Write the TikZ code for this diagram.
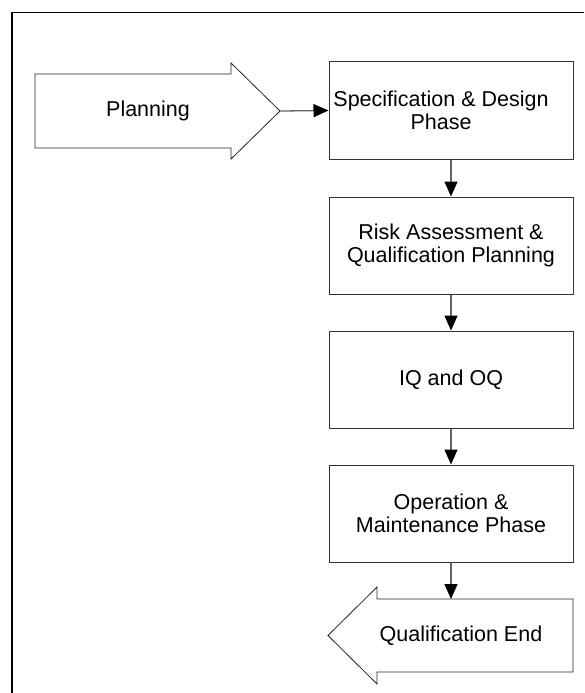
\documentclass[tikz,border=0pt]{standalone}
\usepackage{fontspec}
\setmainfont{Liberation Sans}
\usetikzlibrary{arrows.meta}
\begin{document}
\begin{tikzpicture}[x=1pt,y=-1pt,
  every node/.style={font=\fontsize{21.5}{22.5}\selectfont, align=center, inner sep=0pt},
  phasebox/.style={draw=black!80, line width=1pt, minimum width=244pt, minimum height=97pt},
  bigarrow/.style={draw=black!85, line width=0.8pt, line join=miter},
  frameline/.style={draw=black, line width=1.8pt},
  flow/.style={draw=black!60, line width=1.3pt,
    -{Triangle[length=15pt,width=13pt,color=black]}}]
\useasboundingbox (0,0) rectangle (584,693);
\fill[white] (0,0) rectangle (584,693);

% outer frame (runs off the right and bottom edges)
\draw[frameline] (584,12.5) -- (12,12.5) -- (12,693);

% start arrow
\draw[bigarrow] (35,74) -- (231,74) -- (231,63) -- (280,111)
  -- (231,159) -- (231,148) -- (35,148) -- cycle;
\node (plan) at (148,111) {Planning};
\coordinate (plantip) at (280,111);

% phase boxes
\node[phasebox, label={[shift={(-10,0)}]center:Specification \& Design\\Phase}]
  (spec) at (451,110.5) {};
\node[phasebox] (risk) at (451,245.5) {Risk Assessment \&\\Qualification Planning};
\node[phasebox] (iq) at (451,379.5) {IQ and OQ};
\node[phasebox] (op) at (451,513.5) {Operation \&\\Maintenance Phase};

% end arrow
\draw[bigarrow] (573,599) -- (377,599) -- (377,587) -- (328,635.5)
  -- (377,684) -- (377,672) -- (573,672) -- cycle;
\node (qend) at (461,635.5) {Qualification End};
\coordinate (qtop) at (451,599);

% connectors
\draw[flow] (plantip) -- (spec.west);
\draw[flow] (spec.south) -- (risk.north);
\draw[flow] (risk.south) -- (iq.north);
\draw[flow] (iq.south) -- (op.north);
\draw[flow] (op.south) -- (qtop);
\end{tikzpicture}
\end{document}
